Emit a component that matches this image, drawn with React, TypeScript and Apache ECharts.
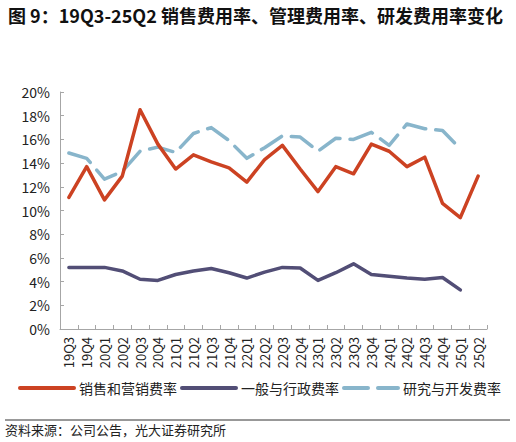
import React, { useEffect, useRef } from "react";
import * as echarts from "echarts";

const categories = [
  "19Q3", "19Q4", "20Q1", "20Q2", "20Q3", "20Q4", "21Q1", "21Q2", "21Q3", "21Q4",
  "22Q1", "22Q2", "22Q3", "22Q4", "23Q1", "23Q2", "23Q3", "23Q4", "24Q1", "24Q2",
  "24Q3", "24Q4", "25Q1", "25Q2",
];

const salesRate = [
  11.1, 13.7, 10.9, 12.9, 18.5, 15.6, 13.5, 14.7, 14.1, 13.6,
  12.4, 14.3, 15.5, 13.5, 11.6, 13.7, 13.1, 15.6, 15.0, 13.7,
  14.5, 10.6, 9.4, 12.9,
];

const adminRate = [
  5.2, 5.2, 5.2, 4.9, 4.2, 4.1, 4.6, 4.9, 5.1, 4.75,
  4.3, 4.8, 5.2, 5.15, 4.1, 4.75, 5.5, 4.6, 4.45, 4.3,
  4.2, 4.35, 3.3, null,
];

const rdRate = [
  14.85, 14.4, 12.65, 13.3, 15.0, 15.35, 14.9, 16.5, 17.0, 15.9,
  14.4, 15.3, 16.3, 16.2, 15.0, 16.1, 16.0, 16.6, 15.5, 17.3,
  16.9, 16.75, 15.2, null,
];

const seriesNames = ["销售和营销费率", "一般与行政费率", "研究与开发费率"];
const titleText = "图 9：19Q3-25Q2 销售费用率、管理费用率、研发费用率变化";
const sourceText = "资料来源：公司公告，光大证券研究所";

const FONT = "'Noto Sans CJK SC', 'Noto Sans', sans-serif";

export default function App() {
  const ref = useRef<HTMLDivElement>(null);

  useEffect(() => {
    if (!ref.current) return;
    const chart = echarts.init(ref.current, undefined, { renderer: "svg" });
    chart.setOption({
      animation: false,
      backgroundColor: "#ffffff",
      textStyle: { fontFamily: FONT },
      title: {
        text: titleText,
        left: 3,
        top: 1,
        textStyle: { fontSize: 18, fontWeight: "bold", color: "#111", fontFamily: FONT },
      },
      legend: {
        data: seriesNames,
        left: 18,
        top: 381,
        width: 498,
        padding: 0,
        itemWidth: 54,
        itemHeight: 12,
        itemGap: 3,
        itemStyle: { opacity: 0 },
        lineStyle: { width: 4, cap: "round" },
        textStyle: { fontSize: 14, color: "#222", fontFamily: FONT },
      },
      grid: { left: 60, right: 29, top: 92, bottom: 113 },
      xAxis: {
        type: "category",
        data: categories,
        boundaryGap: true,
        axisLine: { lineStyle: { color: "#a6a6a6", width: 1 } },
        axisTick: { show: true, inside: true, length: 4, lineStyle: { color: "#a6a6a6" } },
        axisLabel: {
          interval: 0,
          rotate: 90,
          margin: 8,
          fontSize: 13,
          color: "#222",
          fontFamily: FONT,
        },
      },
      yAxis: {
        type: "value",
        min: 0,
        max: 20,
        interval: 2,
        splitLine: { show: false },
        axisLine: { show: true, lineStyle: { color: "#a6a6a6", width: 1 } },
        axisTick: { show: true, inside: true, length: 4, lineStyle: { color: "#a6a6a6" } },
        axisLabel: {
          formatter: "{value}%",
          fontSize: 14,
          color: "#222",
          margin: 10,
          fontFamily: FONT,
        },
      },
      series: [
        {
          name: seriesNames[0],
          type: "line",
          data: salesRate,
          symbol: "none",
          z: 3,
          lineStyle: { color: "#cc4222", width: 3.5, cap: "round", join: "round" },
          itemStyle: { color: "#cc4222" },
        },
        {
          name: seriesNames[1],
          type: "line",
          data: adminRate,
          symbol: "none",
          z: 2,
          lineStyle: { color: "#524e76", width: 3.5, cap: "round", join: "round" },
          itemStyle: { color: "#524e76" },
        },
        {
          name: seriesNames[2],
          type: "line",
          data: rdRate,
          symbol: "none",
          z: 2,
          lineStyle: { color: "#88b5cb", width: 3.5, type: [24, 10], cap: "round", join: "round" },
          itemStyle: { color: "#88b5cb" },
        },
      ],
      graphic: [
        {
          type: "line",
          shape: { x1: 5, y1: 420, x2: 510, y2: 420 },
          style: { stroke: "#333", lineWidth: 1 },
        },
        {
          type: "text",
          left: 5,
          top: 423,
          style: { text: sourceText, fontSize: 13, fill: "#222", fontFamily: FONT },
        },
      ],
    });
    return () => chart.dispose();
  }, []);

  return (
    <div style={{ position: "fixed", left: 0, top: 0, width: 516, height: 442 }}>
      <div ref={ref} style={{ width: 516, height: 442 }} />
    </div>
  );
}
